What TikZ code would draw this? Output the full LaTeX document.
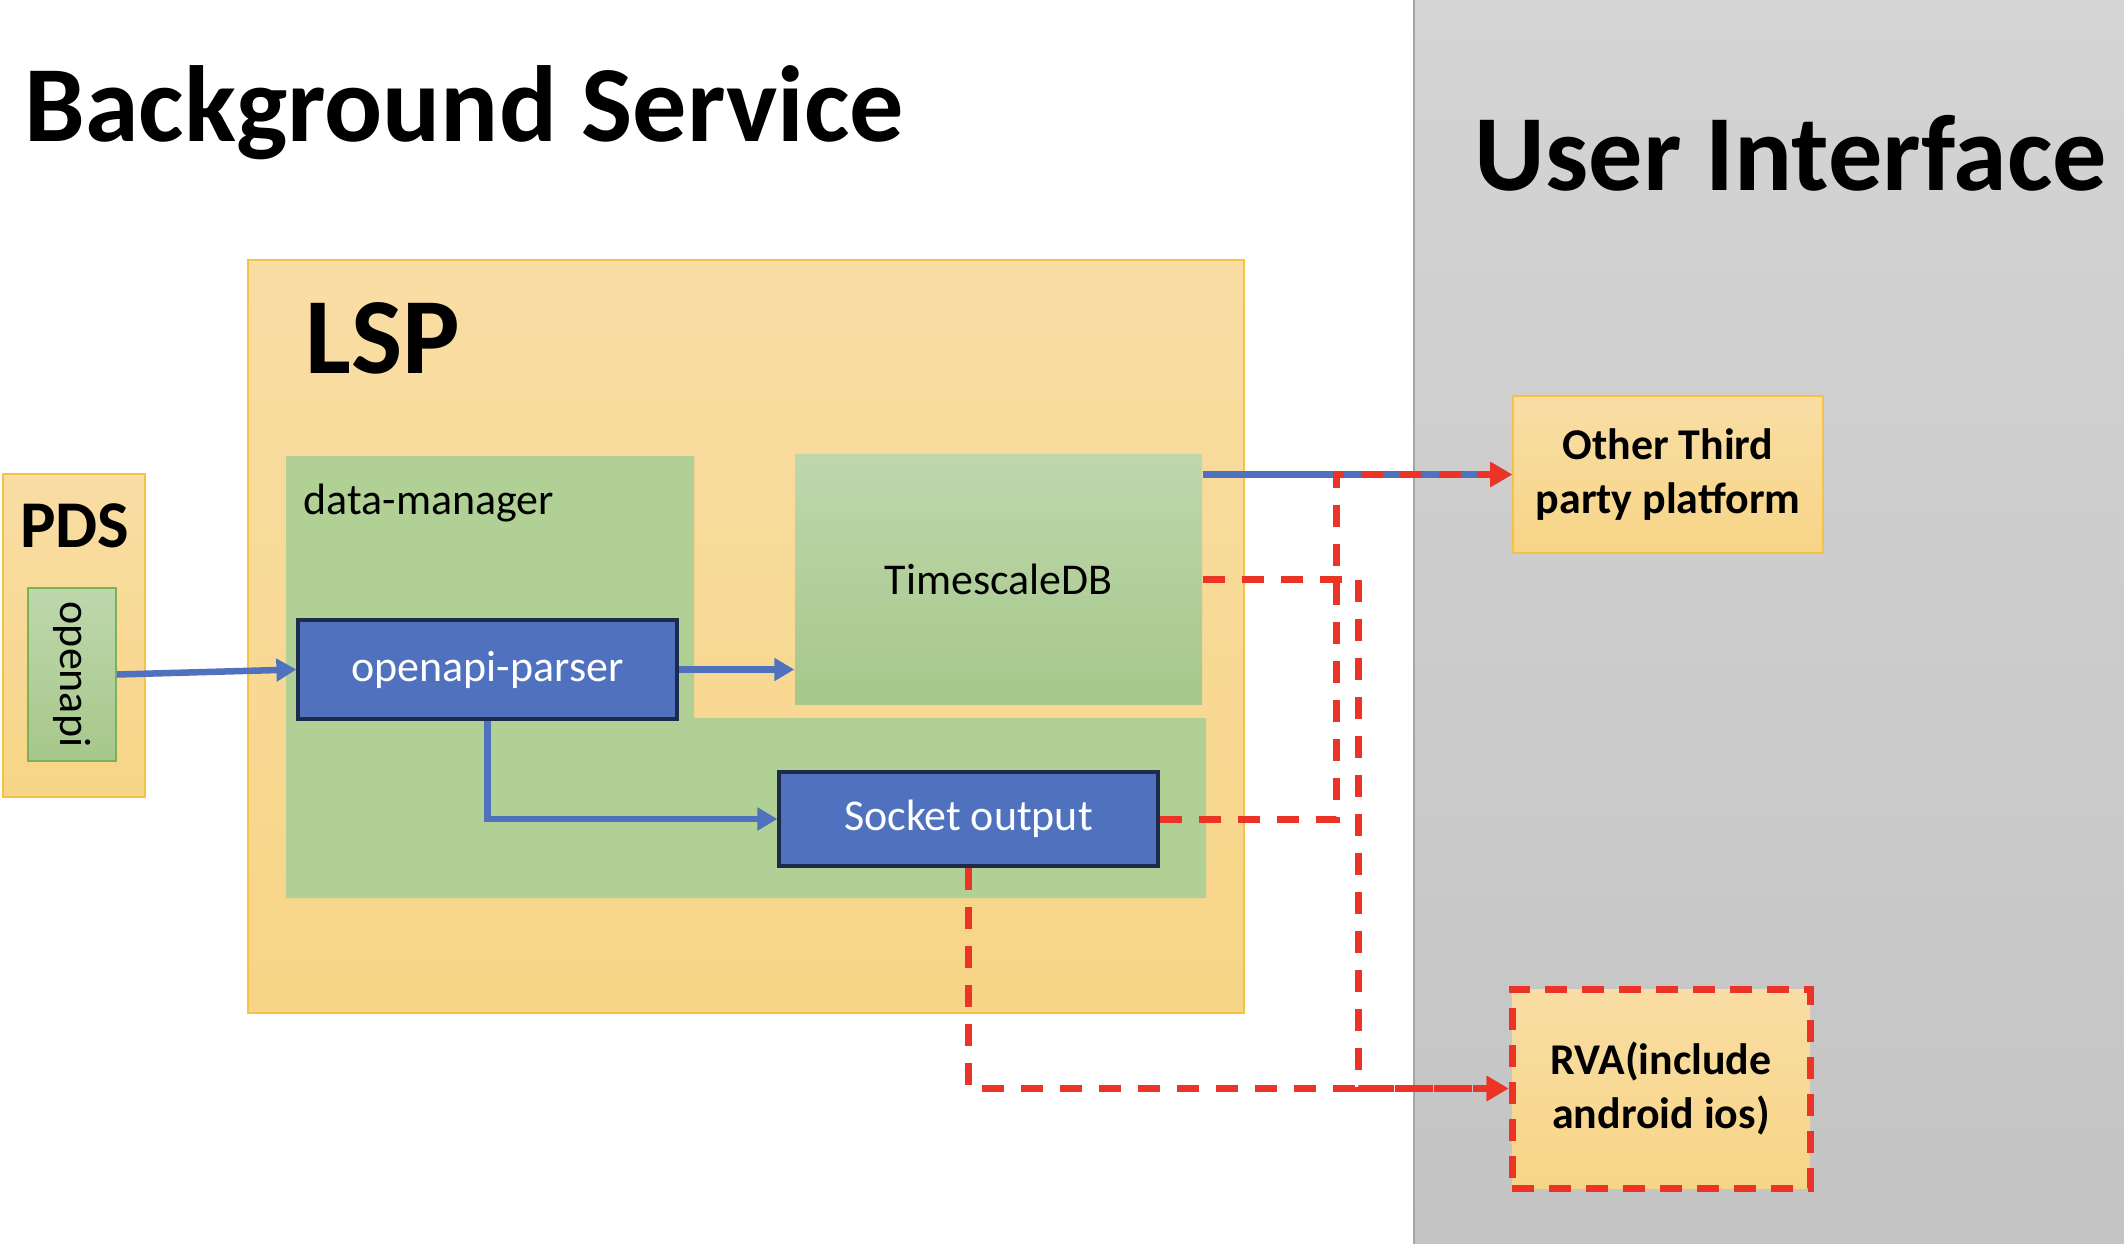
\documentclass[tikz,border=0pt]{standalone}
\usepackage{fontspec}
\setmainfont{Carlito}
\definecolor{lsptop}{RGB}{249,221,164}
\definecolor{lspbot}{RGB}{247,213,134}
\definecolor{lspline}{RGB}{246,194,67}
\definecolor{dmgreen}{RGB}{176,208,149}
\definecolor{dbtop}{RGB}{190,215,172}
\definecolor{dbbot}{RGB}{166,200,139}
\definecolor{dbline}{RGB}{122,177,91}
\definecolor{procblue}{RGB}{80,114,190}
\definecolor{procline}{RGB}{30,42,75}
\definecolor{flowred}{RGB}{236,52,38}
\definecolor{uitop}{RGB}{212,212,212}
\definecolor{uibot}{RGB}{196,196,196}
\usepackage{tikz}
\usetikzlibrary{arrows.meta,positioning,calc}

\begin{document}
\begin{tikzpicture}[x=1cm, y=-1cm,
    title/.style={font=\fontsize{30.8}{37}\selectfont\bfseries, anchor=base west, inner sep=0pt},
    lspbox/.style={rectangle, draw=lspline, line width=0.5pt, top color=lsptop, bottom color=lspbot, inner sep=0pt},
    dbbox/.style={rectangle, top color=dbtop, bottom color=dbbot, inner sep=0pt, font=\fontsize{12.5}{15}\selectfont},
    procbox/.style={rectangle, draw=procline, line width=0.9pt, fill=procblue, text=white, inner sep=0pt, minimum width=3.79cm, font=\fontsize{12.5}{15}\selectfont},
    outbox/.style={rectangle, top color=lsptop, bottom color=lspbot, inner sep=0pt, align=center, font=\fontsize{12.5}{15.4}\selectfont\bfseries},
    blueflow/.style={-{Triangle[length=0.2cm, width=0.22cm]}, line width=0.065cm, procblue},
    redflow/.style={-{Triangle[length=0.22cm, width=0.24cm]}, line width=0.07cm, flowred, dash pattern=on 0.22cm off 0.17cm}
]
    \useasboundingbox (0,0) rectangle (21.24,12.44);

    % User interface side
    \shade[top color=uitop, bottom color=uibot] (14.14,0) rectangle (21.24,12.44);
    \draw[gray!70, line width=0.4pt] (14.14,0) -- (14.14,12.44);
    \node[title] (bgtitle) at (0.24,1.42) {Background Service};
    \node[title] (uititle) at (14.74,1.90) {User Interface};

    % PDS
    \node[lspbox, minimum width=1.42cm, minimum height=3.23cm] (pds) at (0.74,6.355) {};
    \node[font=\fontsize{19}{23}\selectfont\bfseries, anchor=base] (pdslabel) at (0.75,5.47) {PDS};
    \node[dbbox, draw=dbline, line width=0.5pt, minimum width=0.88cm, minimum height=1.73cm] (openapi) at (0.72,6.745) {};
    \node[rotate=-90, font=\fontsize{12.5}{15}\selectfont] (openapilabel) at (openapi.center) {openapi};

    % LSP
    \node[lspbox, minimum width=9.96cm, minimum height=7.53cm] (lsp) at (7.46,6.365) {};
    \node[title] (lsplabel) at (3.05,3.73) {LSP};
    \fill[dmgreen] (2.86,4.56) -- (6.94,4.56) -- (6.94,7.18) -- (12.06,7.18) -- (12.06,8.98) -- (2.86,8.98) -- cycle;
    \node[font=\fontsize{12.5}{15}\selectfont, anchor=base west, inner sep=0pt] (dmlabel) at (3.03,5.14) {data-manager};
    \node[dbbox, minimum width=4.07cm, minimum height=2.50cm] (ts) at (9.985,5.79) {TimescaleDB};
    \node[procbox, minimum height=0.99cm] (parser) at (4.875,6.695) {openapi-parser};
    \node[procbox, minimum height=0.94cm] (socket) at (9.685,8.19) {Socket output};

    % Consumers
    \node[outbox, draw=lspline, line width=0.5pt, minimum width=3.10cm, minimum height=1.57cm] (other) at (16.68,4.745) {Other Third\\party platform};
    \node[outbox, draw=flowred, line width=0.07cm, dash pattern=on 0.22cm off 0.15cm, minimum width=2.98cm, minimum height=1.99cm] (rva) at (16.61,10.885) {RVA(include\\android ios)};

    % Data flow
    \draw[blueflow] (openapi.east) -- (parser.west);
    \draw[blueflow] (parser.east) -- (parser.east -| ts.west);
    \draw[blueflow] (parser.south) |- (socket.west);
    \draw[blueflow] (ts.east |- other.west) -- (other.west);

    % Push flow
    \coordinate (sockturn) at (13.36,4.745);
    \coordinate (tsturn) at (13.58,10.885);
    \draw[redflow] (socket.east) -| (sockturn) -- (other.west);
    \draw[redflow] (ts.east) -| (tsturn) -- (rva.west);
    \draw[redflow] (socket.south) |- (rva.west);
\end{tikzpicture}
\end{document}
